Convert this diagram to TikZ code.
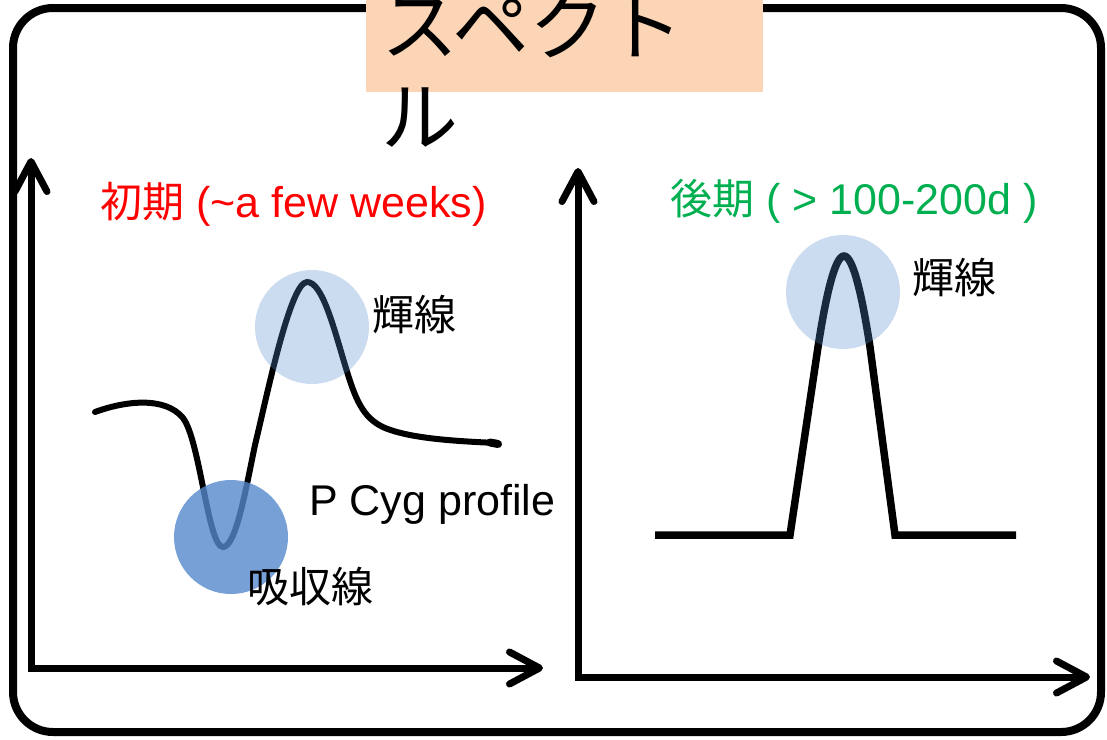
\documentclass[tikz,border=0pt]{standalone}
\usepackage{fontspec}
\setmainfont{Liberation Sans}
\newfontfamily\cjk{Noto Sans CJK JP}
\usetikzlibrary{arrows.meta}
\definecolor{peach}{HTML}{FBD5B5}
\definecolor{accent}{RGB}{85,137,206}
\definecolor{lategreen}{HTML}{00B050}
\begin{document}
\begin{tikzpicture}[x=1pt,y=-1pt,
  frame/.style={line width=8pt, rounded corners=40pt},
  axis/.style={line width=7pt, line join=miter,
    {Straight Barb[length=30pt,width=32pt,round]}-{Straight Barb[length=30pt,width=32pt,round]}},
  spec/.style={line width=6pt, line cap=round},
  spec2/.style={line width=7.5pt},
  lbl/.style={inner sep=0pt, font=\fontsize{43}{50}\selectfont},
  jlbl/.style={inner sep=0pt, font=\cjk\fontsize{42}{50}\selectfont},
  glow/.style={fill=accent, fill opacity=0.3},
  dark/.style={fill=accent, fill opacity=0.8},
]
\useasboundingbox (0,0) rectangle (1107,739);
\fill[white] (0,0) rectangle (1107,739);
% outer frame
\draw[frame] (13,8) rectangle (1101,732);
% title box
\fill[peach] (366,-5) rectangle (763,92);
\node[anchor=base west, inner sep=0pt, font=\cjk\fontsize{77}{90}\selectfont] (title1) at (381,54) {スペクト};
\node[anchor=base west, inner sep=0pt, font=\cjk\fontsize{77}{90}\selectfont] (title2) at (381,145) {ル};
% left axes
\coordinate (ly) at (31,158);
\coordinate (lo) at (31,668);
\coordinate (lx) at (543,668);
\draw[axis] (ly) -- (lo) -- (lx);
% right axes
\coordinate (ry) at (578,168);
\coordinate (ro) at (578,677);
\coordinate (rx) at (1090,677);
\draw[axis] (ry) -- (ro) -- (rx);
% left spectrum (P Cyg)
\draw[spec] (95,412) .. controls (125,401) and (165,396) .. (183,418)
  .. controls (200,440) and (208,547) .. (223,547)
  .. controls (236,547) and (246,488) .. (255,445)
  .. controls (266,400) and (290,282) .. (307,282)
  .. controls (322,282) and (333,325) .. (345,365)
  .. controls (355,398) and (362,418) .. (385,428)
  .. controls (410,438) and (450,441) .. (497,443);
\draw[line width=8pt, line cap=round] (490,442.5) -- (498,444);
% right spectrum
\draw[spec2] (655,535) -- (790,535) -- (818,347)
  .. controls (826,295) and (835,256) .. (844,256)
  .. controls (853,256) and (862,295) .. (870,347)
  -- (895,535) -- (1016,535);
% circles
\fill[glow] (312,327) circle (57);
\fill[dark] (231,537) circle (57);
\fill[glow] (843,292) circle (57);
% labels
\node[jlbl] (emi1) at (414,315) {輝線};
\node[jlbl] (emi2) at (954,278) {輝線};
\node[jlbl] (abs) at (310,587) {吸収線};
\node[lbl, anchor=base west] (pcyg) at (309,515) {P Cyg profile};
\node[lbl, anchor=base west, text=red] (early) at (100,217) {{\cjk\fontsize{42}{50}\selectfont 初期} (\textasciitilde a few weeks)};
\node[lbl, anchor=base west, text=lategreen] (late) at (670,214) {{\cjk\fontsize{42}{50}\selectfont 後期} ( > 100-200d )};
\end{tikzpicture}
\end{document}
